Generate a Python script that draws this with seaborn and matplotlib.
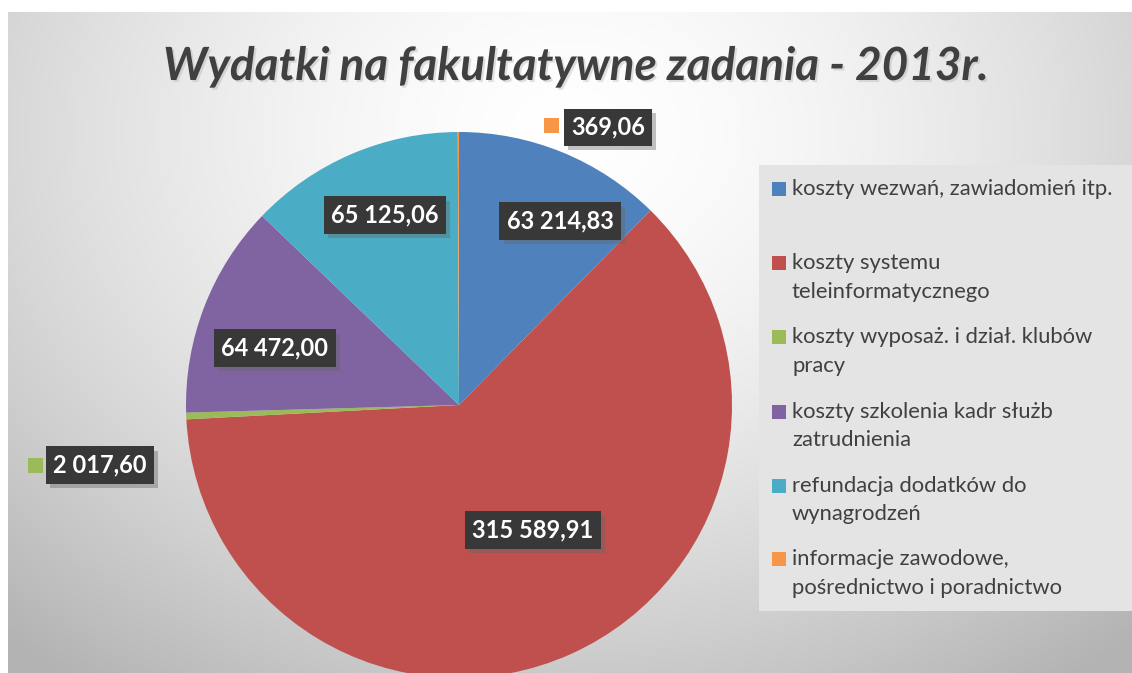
import numpy as np
import matplotlib
matplotlib.use("Agg")
import matplotlib.pyplot as plt
import matplotlib.patheffects as pe
from matplotlib.patches import Rectangle
import seaborn as sns

# data
categories = [
    "koszty wezwań, zawiadomień itp.",
    "koszty systemu\nteleinformatycznego",
    "koszty wyposaż. i dział. klubów\npracy",
    "koszty szkolenia kadr służb\nzatrudnienia",
    "refundacja dodatków do\nwynagrodzeń",
    "informacje zawodowe,\npośrednictwo i poradnictwo",
]
values = [63214.83, 315589.91, 2017.60, 64472.00, 65125.06, 369.06]
colors = ["#4F81BD", "#C0504D", "#9BBB59", "#8064A2", "#4BACC6", "#F79646"]
title = "Wydatki na fakultatywne zadania - 2013r."

# label centres in pie units (radius = 1); key = small colour square for outside labels
label_pos = [(0.37, 0.674), (0.271, -0.458), (-1.315, -0.22),
             (-0.674, 0.209), (-0.271, 0.696), (0.546, 1.018)]
key_pos = [None, None, (-1.553, -0.222), None, None, (0.337, 1.022)]


def fmt_pl(v):
    return f"{v:,.2f}".replace(",", " ").replace(".", ",")


sns.set_theme(style="white")
plt.rcParams["font.family"] = ["Lato", "DejaVu Sans"]

W, H = 1132, 673
fig = plt.figure(figsize=(W / 100, H / 100), dpi=100)
fig.patch.set_facecolor("white")

# gradient background panel
bg = fig.add_axes([8 / W, 0, 1 - 8 / W, (H - 12) / H])
yy, xx = np.mgrid[0:H - 12, 0:W - 8]
d = np.sqrt(((xx - 560) / 700.0) ** 2 + ((yy - 120) / 560.0) ** 2)
shade = 1.0 - 0.22 * np.clip(d, 0, 1.2) ** 1.6
bg.imshow(np.dstack([shade] * 3), aspect="auto", extent=[0, 1, 0, 1], origin="upper")
bg.set_axis_off()
bg.set_zorder(0)

# pie
cx, cy, r = 459, 405, 273
ax = fig.add_axes([(cx - r) / W, (H - cy - r) / H, 2 * r / W, 2 * r / H])
ax.set_zorder(2)
ax.pie(values, colors=colors, startangle=90, counterclock=False,
       wedgeprops=dict(linewidth=0))
ax.set_xlim(-1, 1)
ax.set_ylim(-1, 1)
ax.set_aspect("auto")
ax.set_axis_off()

shadow = [pe.SimplePatchShadow(offset=(3, -3), shadow_rgbFace="#666666", alpha=0.4), pe.Normal()]
for v, (lx, ly), kp, c in zip(values, label_pos, key_pos, colors):
    t = ax.text(lx, ly, fmt_pl(v), ha="center", va="center", color="white",
                fontsize=17, fontweight="bold", clip_on=False, zorder=5,
                bbox=dict(boxstyle="square,pad=0.3", fc="#383838", ec="none"))
    t.get_bbox_patch().set_path_effects(shadow)
    if kp is not None:
        s = 15 / r
        ax.add_patch(Rectangle((kp[0] - s / 2, kp[1] - s / 2), s, s, fc=c, ec="none",
                               clip_on=False, zorder=5))

# title
fig.text(576 / W, 1 - 80 / H, title, ha="center", va="baseline", fontsize=33,
         fontweight="bold", fontstyle="italic", color="#404040",
         path_effects=[pe.withSimplePatchShadow(offset=(1.5, -1.5), shadow_rgbFace="#aaaaaa", alpha=0.35)])

# legend panel
fig.patches.append(Rectangle((759 / W, 1 - 611 / H), (W - 759) / W, (611 - 165) / H,
                             transform=fig.transFigure, fc="#e4e4e4", ec="none", zorder=1))
item_base = [195, 269, 343, 418, 492, 565]
for lab, c, y in zip(categories, colors, item_base):
    fig.patches.append(Rectangle((772 / W, 1 - (y + 1) / H), 14 / W, 14 / H,
                                 transform=fig.transFigure, fc=c, ec="none", zorder=3))
    for i, line in enumerate(lab.split("\n")):
        fig.text(792 / W, 1 - (y + 28.5 * i) / H, line, ha="left", va="baseline",
                 fontsize=15.8, color="#404040", zorder=3)

fig.savefig("out.png", dpi=100)
